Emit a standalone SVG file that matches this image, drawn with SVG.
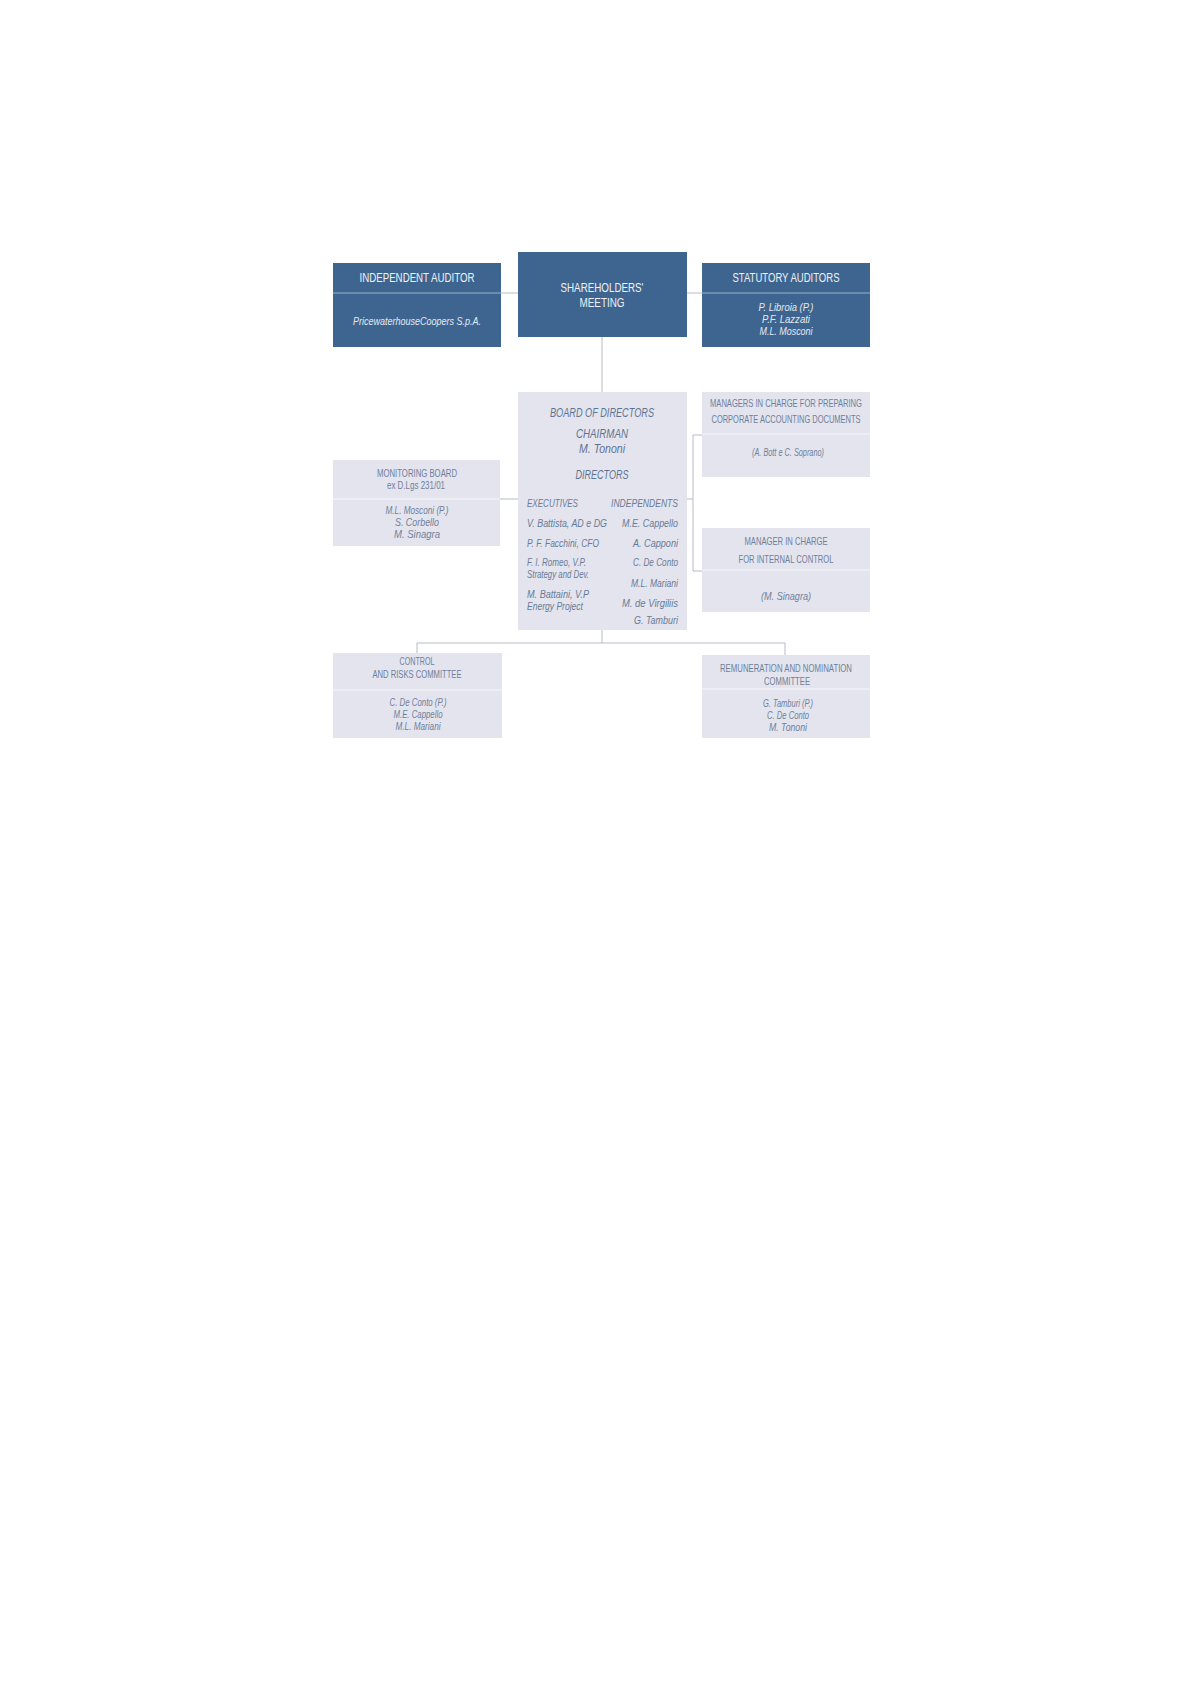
<svg xmlns="http://www.w3.org/2000/svg" width="1196" height="1692" viewBox="0 0 1196 1692">
<style>
.dark{fill:#3e6590}
.light{fill:#e3e4ee}
.dd{stroke:#9ab3cc;stroke-width:1.2}
.ld{stroke:#f6f7fa;stroke-width:1.2}
.conn{stroke:#b7bbc4;stroke-width:1;fill:none}
text{font-family:"Liberation Sans",Arial,sans-serif}
.wh{fill:#eef2f7;font-size:12px}
.whi{fill:#e3e9f1;font-size:11.5px;font-style:italic}
.gh{fill:#6f809a;font-size:10.5px}
.gi{fill:#6f809a;font-size:10.5px;font-style:italic}
.bi{fill:#5f7391;font-size:12.5px;font-style:italic}
.bs{fill:#687b97;font-size:11.5px;font-style:italic}
.bh{fill:#687b97;font-size:10px;font-style:italic}
</style>
<rect width="1196" height="1692" fill="#ffffff"/>
<g id="connectors">
<line class="conn" x1="501" y1="293" x2="518" y2="293"/>
<line class="conn" x1="687" y1="293" x2="702" y2="293"/>
<line class="conn" x1="602" y1="337" x2="602" y2="392"/>
<line class="conn" x1="500" y1="499" x2="518" y2="499"/>
<polyline class="conn" points="687,499 693,499"/>
<polyline class="conn" points="702,435 693,435 693,571 702,571"/>
<line class="conn" x1="602" y1="630" x2="602" y2="643"/>
<polyline class="conn" points="417,653 417,643 785,643 785,655"/>
</g>
<g id="independent-auditor" text-anchor="middle">
<rect class="dark" x="333" y="263" width="168" height="84"/>
<line class="dd" x1="333" y1="293" x2="501" y2="293"/>
<text class="wh" x="417" y="282" textLength="115" lengthAdjust="spacingAndGlyphs">INDEPENDENT AUDITOR</text>
<text class="whi" x="417" y="325" textLength="128" lengthAdjust="spacingAndGlyphs">PricewaterhouseCoopers S.p.A.</text>
</g>
<g id="shareholders-meeting" text-anchor="middle">
<rect class="dark" x="518" y="252" width="169" height="85"/>
<text class="wh" x="602" y="292" style="font-size:12.5px" textLength="83" lengthAdjust="spacingAndGlyphs">SHAREHOLDERS'</text>
<text class="wh" x="602" y="307" style="font-size:12.5px" textLength="45" lengthAdjust="spacingAndGlyphs">MEETING</text>
</g>
<g id="statutory-auditors" text-anchor="middle">
<rect class="dark" x="702" y="263" width="168" height="84"/>
<line class="dd" x1="702" y1="293" x2="870" y2="293"/>
<text class="wh" x="786" y="282" textLength="107" lengthAdjust="spacingAndGlyphs">STATUTORY AUDITORS</text>
<text class="whi" x="786" y="311" textLength="55" lengthAdjust="spacingAndGlyphs">P. Libroia (P.)</text>
<text class="whi" x="786" y="323" textLength="48" lengthAdjust="spacingAndGlyphs">P.F. Lazzati</text>
<text class="whi" x="786" y="335" textLength="53" lengthAdjust="spacingAndGlyphs">M.L. Mosconi</text>
</g>
<g id="board-of-directors">
<rect class="light" x="518" y="392" width="169" height="238"/>
<text class="bi" x="602" y="417" text-anchor="middle" textLength="104" lengthAdjust="spacingAndGlyphs">BOARD OF DIRECTORS</text>
<text class="bi" x="602" y="438" text-anchor="middle" textLength="52" lengthAdjust="spacingAndGlyphs">CHAIRMAN</text>
<text class="bi" x="602" y="453" text-anchor="middle" textLength="46" lengthAdjust="spacingAndGlyphs">M. Tononi</text>
<text class="bi" x="602" y="479" text-anchor="middle" textLength="53" lengthAdjust="spacingAndGlyphs">DIRECTORS</text>
<text class="bh" x="527" y="507" textLength="51" lengthAdjust="spacingAndGlyphs">EXECUTIVES</text>
<text class="bh" x="611" y="507" textLength="67" lengthAdjust="spacingAndGlyphs">INDEPENDENTS</text>
<text class="bs" x="527" y="527" textLength="80" lengthAdjust="spacingAndGlyphs">V. Battista, AD e DG</text>
<text class="bs" x="527" y="547" textLength="72" lengthAdjust="spacingAndGlyphs">P. F. Facchini, CFO</text>
<text class="bs" x="527" y="566" textLength="59" lengthAdjust="spacingAndGlyphs">F. I. Romeo, V.P.</text>
<text class="bs" x="527" y="578" textLength="62" lengthAdjust="spacingAndGlyphs">Strategy and Dev.</text>
<text class="bs" x="527" y="598" textLength="62" lengthAdjust="spacingAndGlyphs">M. Battaini, V.P</text>
<text class="bs" x="527" y="610" textLength="56" lengthAdjust="spacingAndGlyphs">Energy Project</text>
<text class="bs" x="622" y="527" textLength="56" lengthAdjust="spacingAndGlyphs">M.E. Cappello</text>
<text class="bs" x="633" y="547" textLength="45" lengthAdjust="spacingAndGlyphs">A. Capponi</text>
<text class="bs" x="633" y="566" textLength="45" lengthAdjust="spacingAndGlyphs">C. De Conto</text>
<text class="bs" x="631" y="587" textLength="47" lengthAdjust="spacingAndGlyphs">M.L. Mariani</text>
<text class="bs" x="622" y="607" textLength="56" lengthAdjust="spacingAndGlyphs">M. de Virgiliis</text>
<text class="bs" x="634" y="624" textLength="44" lengthAdjust="spacingAndGlyphs">G. Tamburi</text>
</g>
<g id="managers-accounting" text-anchor="middle">
<rect class="light" x="702" y="392" width="168" height="85"/>
<line class="ld" x1="702" y1="434" x2="870" y2="434"/>
<text class="gh" x="786" y="407" textLength="152" lengthAdjust="spacingAndGlyphs">MANAGERS IN CHARGE FOR PREPARING</text>
<text class="gh" x="786" y="423" textLength="149" lengthAdjust="spacingAndGlyphs">CORPORATE ACCOUNTING DOCUMENTS</text>
<text class="gi" x="788" y="456" textLength="72" lengthAdjust="spacingAndGlyphs">(A. Bott e C. Soprano)</text>
</g>
<g id="manager-internal-control" text-anchor="middle">
<rect class="light" x="702" y="528" width="168" height="84"/>
<line class="ld" x1="702" y1="570" x2="870" y2="570"/>
<text class="gh" x="786" y="545" textLength="83" lengthAdjust="spacingAndGlyphs">MANAGER IN CHARGE</text>
<text class="gh" x="786" y="563" textLength="95" lengthAdjust="spacingAndGlyphs">FOR INTERNAL CONTROL</text>
<text class="gi" x="786" y="600" textLength="50" lengthAdjust="spacingAndGlyphs">(M. Sinagra)</text>
</g>
<g id="monitoring-board" text-anchor="middle">
<rect class="light" x="333" y="460" width="167" height="86"/>
<line class="ld" x1="333" y1="499" x2="500" y2="499"/>
<text class="gh" x="417" y="477" textLength="80" lengthAdjust="spacingAndGlyphs">MONITORING BOARD</text>
<text class="gh" x="416" y="489" textLength="58" lengthAdjust="spacingAndGlyphs">ex D.Lgs 231/01</text>
<text class="gi" x="417" y="514" textLength="63" lengthAdjust="spacingAndGlyphs">M.L. Mosconi (P.)</text>
<text class="gi" x="417" y="526" textLength="44" lengthAdjust="spacingAndGlyphs">S. Corbello</text>
<text class="gi" x="417" y="538" textLength="46" lengthAdjust="spacingAndGlyphs">M. Sinagra</text>
</g>
<g id="control-risks-committee" text-anchor="middle">
<rect class="light" x="333" y="653" width="169" height="85"/>
<line class="ld" x1="333" y1="690" x2="502" y2="690"/>
<text class="gh" x="417" y="665" textLength="35" lengthAdjust="spacingAndGlyphs">CONTROL</text>
<text class="gh" x="417" y="678" textLength="89" lengthAdjust="spacingAndGlyphs">AND RISKS COMMITTEE</text>
<text class="gi" x="418" y="706" textLength="57" lengthAdjust="spacingAndGlyphs">C. De Conto (P.)</text>
<text class="gi" x="418" y="718" textLength="49" lengthAdjust="spacingAndGlyphs">M.E. Cappello</text>
<text class="gi" x="418" y="730" textLength="45" lengthAdjust="spacingAndGlyphs">M.L. Mariani</text>
</g>
<g id="remuneration-nomination-committee" text-anchor="middle">
<rect class="light" x="702" y="655" width="168" height="83"/>
<line class="ld" x1="702" y1="689" x2="870" y2="689"/>
<text class="gh" x="786" y="672" textLength="132" lengthAdjust="spacingAndGlyphs">REMUNERATION AND NOMINATION</text>
<text class="gh" x="787" y="685" textLength="46" lengthAdjust="spacingAndGlyphs">COMMITTEE</text>
<text class="gi" x="788" y="707" textLength="50" lengthAdjust="spacingAndGlyphs">G. Tamburi (P.)</text>
<text class="gi" x="788" y="719" textLength="42" lengthAdjust="spacingAndGlyphs">C. De Conto</text>
<text class="gi" x="788" y="731" textLength="38" lengthAdjust="spacingAndGlyphs">M. Tononi</text>
</g>
</svg>
